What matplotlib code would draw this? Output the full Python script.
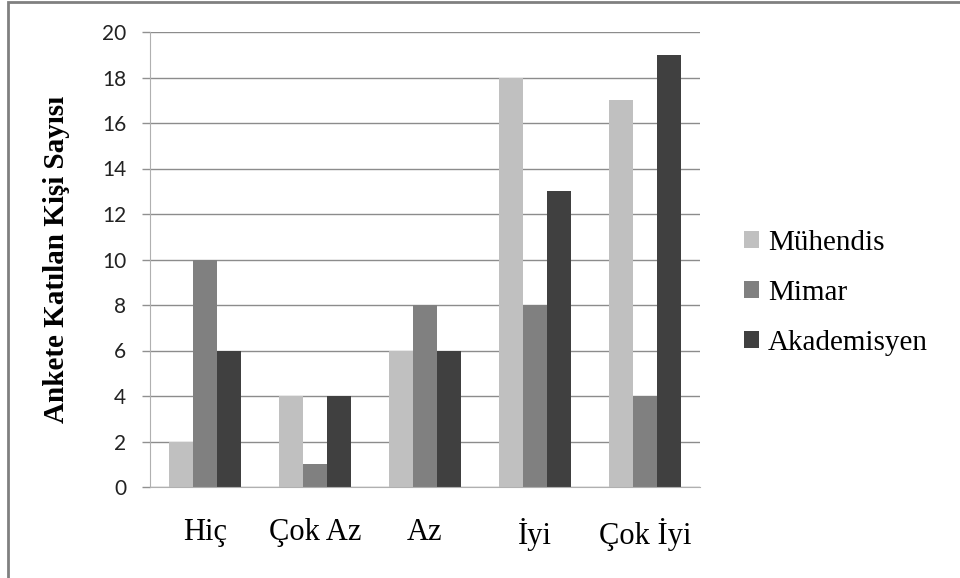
import matplotlib.pyplot as plt
import numpy as np
from matplotlib.patches import Rectangle

kategoriler = ['Hiç', 'Çok Az', 'Az', 'İyi', 'Çok İyi']
muhendis = [2, 4, 6, 18, 17]
mimar = [10, 1, 8, 8, 4]
akademisyen = [6, 4, 6, 13, 19]
seriler = ['Mühendis', 'Mimar', 'Akademisyen']
renkler = ['#c0c0c0', '#808080', '#404040']

plt.rcParams['font.family'] = ['Liberation Serif', 'DejaVu Serif']

fig = plt.figure(figsize=(9.6, 5.78), dpi=100)
ax = fig.add_axes([150 / 960, 1 - 487 / 578, 550 / 960, 455 / 578])

x = np.arange(len(kategoriler))
w = 0.22
for i, (vals, ad, renk) in enumerate(zip([muhendis, mimar, akademisyen], seriler, renkler)):
    ax.bar(x + (i - 1) * w, vals, w, color=renk, label=ad, zorder=3)

ax.set_xlim(-0.5, len(kategoriler) - 0.5)
ax.set_ylim(0, 20)
ax.set_yticks(range(0, 21, 2))
ax.set_yticklabels([str(v) for v in range(0, 21, 2)], family='Lato', fontsize=15,
                   color='#222222')
ax.set_xticks(x)
ax.set_xticklabels(kategoriler, fontsize=22)
ax.tick_params(axis='x', length=0, pad=22)
ax.tick_params(axis='y', length=6, color='#909090', width=1, pad=11)

ax.grid(axis='y', color='#8c8c8c', linewidth=1, zorder=0)
for s in ['top', 'right']:
    ax.spines[s].set_visible(False)
ax.spines['left'].set_color('#b0b0b0')
ax.spines['bottom'].set_color('#b0b0b0')
ax.spines['bottom'].set_zorder(4)

ax.set_ylabel('Ankete Katılan Kişi Sayısı', fontweight='bold', fontsize=21)
ax.yaxis.set_label_coords(-0.145, 0.5)

ax.legend(loc='center left', bbox_to_anchor=(1.08, 0.426), frameon=False,
          fontsize=21, borderpad=0, borderaxespad=0,
          handlelength=0.52, handleheight=0.52, handletextpad=0.3,
          labelspacing=0.82)

# dış çerçeve
fig.add_artist(Rectangle((8 / 960, -0.1), 1.2, 1.1 - 2 / 578, transform=fig.transFigure,
                         fill=False, edgecolor='#808080', linewidth=2))

fig.savefig('out.png', dpi=100)
